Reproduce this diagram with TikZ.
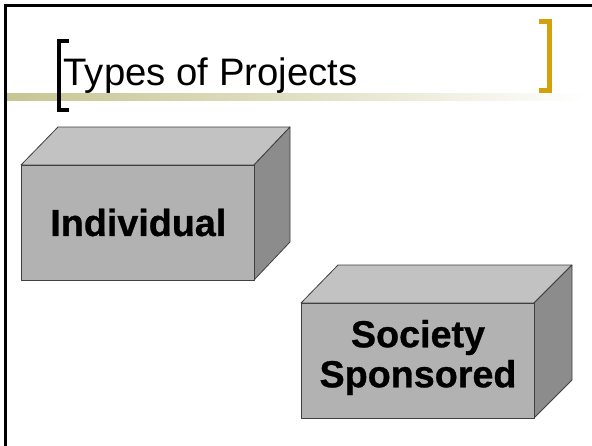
\documentclass[tikz,border=0pt]{standalone}
\usepackage{fontspec}
\setmainfont{Liberation Sans}
\newfontface\boxfont{Liberation Sans Bold}[FakeBold=0.8]
\definecolor{bandcol}{RGB}{198,198,148}
\definecolor{goldcol}{RGB}{212,160,12}
\definecolor{frontcol}{RGB}{178,178,178}
\definecolor{topcol}{RGB}{194,194,194}
\definecolor{sidecol}{RGB}{140,140,140}
\definecolor{edgecol}{RGB}{64,64,64}
\tikzset{
  face/.style={draw=edgecol, line width=0.8pt, line join=round},
  boxtext/.style={font=\boxfont\fontsize{37.7}{40}\selectfont, align=center, inner sep=0pt},
}
\begin{document}
\begin{tikzpicture}[x=1pt,y=-1pt]
\useasboundingbox (0,0) rectangle (592,445);
\fill[white] (0,0) rectangle (592,445);
% slide border
\draw[line width=3pt] (5.5,460) -- (5.5,5.5) -- (600,5.5);
% title band
\shade[left color=bandcol, right color=white, middle color=bandcol!55!white] (7,93) rectangle (585,100);
% title
\node[anchor=base west, inner sep=0pt, font=\fontsize{38.3}{45}\selectfont] (title) at (63.5,85) {Types of Projects};
% black bracket
\fill[black] (57,39) rectangle (61,112);
\fill[black] (57,39) rectangle (69,43);
\fill[black] (57,108) rectangle (69,112);
% gold bracket
\fill[goldcol] (547,19) rectangle (552,93);
\fill[goldcol] (539,19) rectangle (552,24);
\fill[goldcol] (539,88) rectangle (552,93);
% box 1
\filldraw[face, fill=topcol] (21,165) -- (58,127) -- (290,127) -- (254,165) -- cycle;
\filldraw[face, fill=sidecol] (254,165) -- (290,127) -- (290,242) -- (254,280) -- cycle;
\filldraw[face, fill=frontcol] (21,165) rectangle (254,280);
\node[boxtext] (individual) at (138.3,222.5) {Individual};
% box 2
\filldraw[face, fill=topcol] (301,303) -- (338,265) -- (572,265) -- (534,303) -- cycle;
\filldraw[face, fill=sidecol] (534,303) -- (572,265) -- (572,380) -- (534,418) -- cycle;
\filldraw[face, fill=frontcol] (301,303) rectangle (534,418);
\node[boxtext] (society) at (418,357.5) {Society\\Sponsored};
\end{tikzpicture}
\end{document}
